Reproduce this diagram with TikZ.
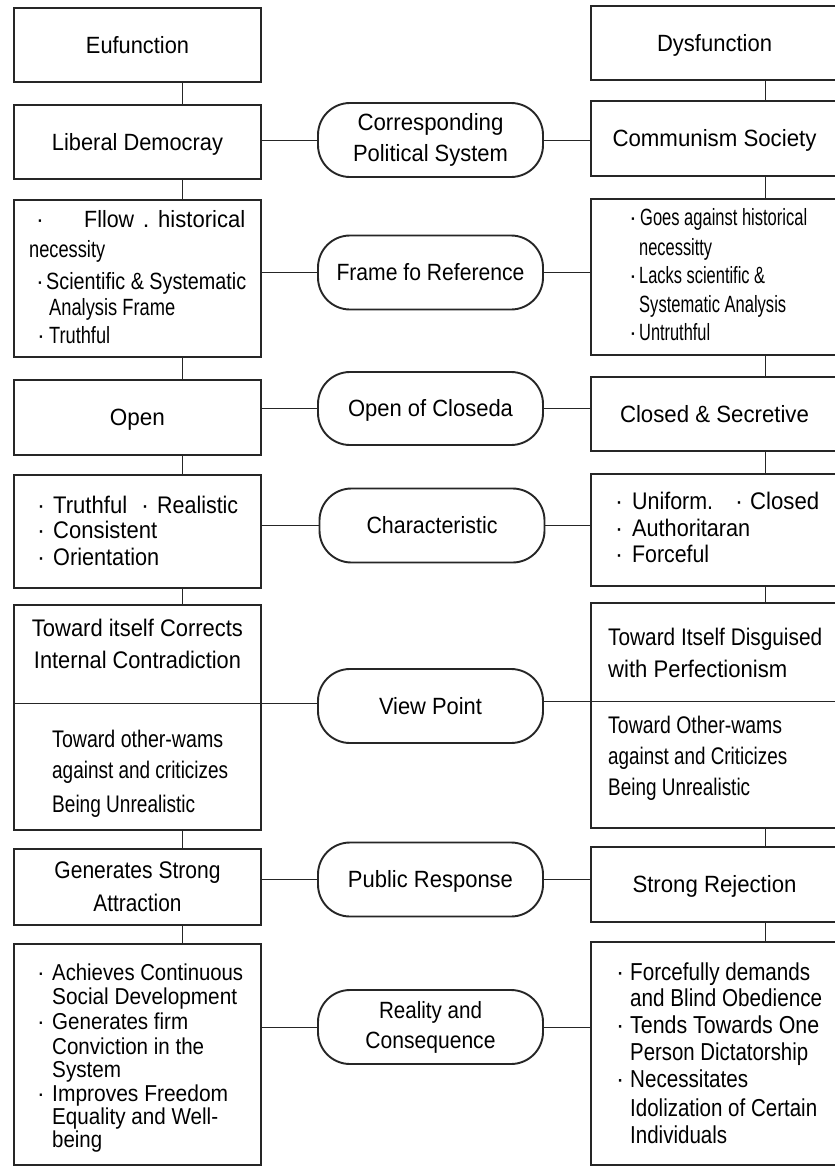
\documentclass[tikz,border=0pt]{standalone}
\usepackage{fontspec}
\setmainfont{Liberation Sans}
\usepackage{graphicx}
\newcommand\fitw[2]{\resizebox{#1pt}{\height}{#2}}
\newcommand\mybul[1]{\makebox[#1pt][l]{·}}
\newcommand\fsz[1]{\fontsize{#1}{#1}\selectfont}
\begin{document}
\begin{tikzpicture}[x=1pt,y=-1pt,
  line/.style={draw=black!85,line width=1pt},
  box/.style={draw=black!85,line width=1.3pt,minimum width=247pt,inner sep=0pt,font=\fsz{23.5},text=black},
  tbox/.style={box,line width=2.4pt},
  one/.style={text height=16.8pt,text depth=0pt},
  pill/.style={draw=black!85,line width=1.9pt,rounded corners=32pt,minimum width=225pt,minimum height=74pt,inner sep=0pt,font=\fsz{23.5},text=black},
  tl/.style={inner sep=0pt,anchor=base west,text=black},
  tfr/.style={tl,font=\fsz{23.5}},
  tmid/.style={tl,font=\fsz{24}},
  tlow/.style={tl,font=\fsz{23}},
  tlowr/.style={tl,font=\fsz{24.5}}]
\path[fill=white,use as bounding box] (0,0) rectangle (835,1167);

% left column boxes
\node[tbox,one,minimum height=74pt] (eu) at (137.5,45) {\fitw{103}{Eufunction}};
\node[box,one,minimum height=74pt] (ld) at (137.5,142) {\fitw{171}{Liberal Democray}};
\node[box,minimum height=157pt] (lf) at (137.5,278.5) {};
\node[box,one,minimum height=75pt] (lo) at (137.5,417.5) {\fitw{55}{Open}};
\node[box,minimum height=113pt] (lc) at (137.5,531.5) {};
\node[box,minimum height=225pt] (lv) at (137.5,717.5) {};
\node[box,minimum height=76pt,align=center,font=\fontsize{24}{33}\selectfont] (lg) at (137.5,887) {\fitw{166}{Generates Strong}\\\fitw{88}{Attraction}};
\node[box,minimum height=221pt] (la) at (137.5,1054.5) {};

% right column boxes
\node[tbox,one,minimum height=74pt] (dy) at (714.5,43) {\fitw{115}{Dysfunction}};
\node[box,one,minimum height=75pt] (cs) at (714.5,138.5) {\fitw{204}{Communism Society}};
\node[box,minimum height=156pt] (rf) at (714.5,277) {};
\node[box,one,minimum height=74pt] (rcl) at (714.5,414) {\fitw{189}{Closed \& Secretive}};
\node[box,minimum height=112pt] (ru) at (714.5,530) {};
\node[box,minimum height=225pt] (rv) at (714.5,715.5) {};
\node[box,one,minimum height=75pt] (rs) at (714.5,884.5) {\fitw{164}{Strong Rejection}};
\node[box,minimum height=223pt] (rr) at (714.5,1053.5) {};

% middle pills
\node[pill,align=center,font=\fontsize{23.5}{31}\selectfont] (p1) at (430.5,140) {\fitw{146}{Corresponding}\\\fitw{155}{Political System}};
\node[pill,one] (p2) at (430.5,272.5) {\fitw{188}{Frame fo Reference}};
\node[pill,one,minimum height=73pt] (p3) at (430.5,408.5) {\fitw{165}{Open of Closeda}};
\node[pill,one] (p4) at (432,525.5) {\fitw{131}{Characteristic}};
\node[pill,one] (p5) at (430.5,706) {\fitw{103}{View Point}};
\node[pill,one] (p6) at (430.5,879.5) {\fitw{165}{Public Response}};
\node[pill,align=center,font=\fontsize{23.5}{30}\selectfont] (p7) at (430.5,1027) {\fitw{103}{Reality and}\\\fitw{130}{Consequence}};

% texts of the left boxes
\node[tfr] (lf1) at (36,227) {\mybul{48}\fitw{50}{Fllow}\makebox[24pt]{.}\fitw{87}{historical}};
\node[tfr] (lf2) at (29,257.5) {\fitw{76}{necessity}};
\node[tfr] (lf3) at (36,289) {\mybul{10}\fitw{200}{Scientific \& Systematic}};
\node[tfr] (lf4) at (49,315.5) {\fitw{126}{Analysis Frame}};
\node[tfr] (lf5) at (37,343) {\mybul{12}\fitw{61}{Truthful}};

\node[tmid] (lc1) at (37,513) {\mybul{16}\fitw{74}{Truthful}\hspace*{14pt}\mybul{16}\fitw{81}{Realistic}};
\node[tmid] (lc2) at (37,538) {\mybul{16}\fitw{104}{Consistent}};
\node[tmid] (lc3) at (37,565) {\mybul{16}\fitw{106}{Orientation}};

\node[tmid,anchor=base] (lv1) at (137.5,636) {\fitw{211}{Toward itself Corrects}};
\node[tmid,anchor=base] (lv2) at (137.5,668) {\fitw{207}{Internal Contradiction}};
\node[tmid] (lv3) at (52,747) {\fitw{171}{Toward other-wams}};
\node[tmid] (lv4) at (52,778) {\fitw{176}{against and criticizes}};
\node[tmid] (lv5) at (52,812) {\fitw{143}{Being Unrealistic}};

\node[tlow] (la1) at (37,980) {\mybul{15}\fitw{191}{Achieves Continuous}};
\node[tlow] (la2) at (52,1004) {\fitw{185}{Social Development}};
\node[tlow] (la3) at (37,1029) {\mybul{15}\fitw{136}{Generates firm}};
\node[tlow] (la4) at (52,1054) {\fitw{152}{Conviction in the}};
\node[tlow] (la5) at (52,1077) {\fitw{69}{System}};
\node[tlow] (la6) at (37,1101) {\mybul{15}\fitw{176}{Improves Freedom}};
\node[tlow] (la7) at (52,1124) {\fitw{166}{Equality and Well-}};
\node[tlow] (la8) at (52,1147) {\fitw{50}{being}};

% texts of the right boxes
\node[tfr] (rf1) at (629,225) {\mybul{11}\fitw{167}{Goes against historical}};
\node[tfr] (rf2) at (639,255) {\fitw{73}{necessitty}};
\node[tfr] (rf3) at (629,283) {\mybul{10}\fitw{126}{Lacks scientific \&}};
\node[tfr] (rf4) at (639,312) {\fitw{147}{Systematic Analysis}};
\node[tfr] (rf5) at (629,340) {\mybul{10}\fitw{71}{Untruthful}};

\node[tmid] (ru1) at (615,509) {\mybul{17}\fitw{81}{Uniform.}\hspace*{22pt}\mybul{15}\fitw{69}{Closed}};
\node[tmid] (ru2) at (615,536) {\mybul{17}\fitw{118}{Authoritaran}};
\node[tmid] (ru3) at (615,562) {\mybul{17}\fitw{77}{Forceful}};

\node[tmid] (rv1) at (608,645) {\fitw{214}{Toward Itself Disguised}};
\node[tmid] (rv2) at (608,677) {\fitw{179}{with Perfectionism}};
\node[tmid] (rv3) at (608,733) {\fitw{174}{Toward Other-wams}};
\node[tmid] (rv4) at (608,764) {\fitw{179}{against and Criticizes}};
\node[tmid] (rv5) at (608,795) {\fitw{142}{Being Unrealistic}};

\node[tlowr] (rr1) at (616,980) {\mybul{14}\fitw{180}{Forcefully demands}};
\node[tlowr] (rr2) at (630,1006) {\fitw{192}{and Blind Obedience}};
\node[tlowr] (rr3) at (616,1033) {\mybul{14}\fitw{189}{Tends Towards One}};
\node[tlowr] (rr4) at (630,1060) {\fitw{178}{Person Dictatorship}};
\node[tlowr] (rr5) at (616,1087) {\mybul{14}\fitw{118}{Necessitates}};
\node[tlowr] (rr6) at (630,1116) {\fitw{187}{Idolization of Certain}};
\node[tlowr] (rr7) at (630,1143) {\fitw{97}{Individuals}};

% connectors
\coordinate (lx) at (182,0);
\coordinate (rx) at (765,0);
\foreach \a/\b in {eu/ld,ld/lf,lf/lo,lo/lc,lc/lv,lv/lg,lg/la}
  \draw[line] (\a.south -| lx) -- (\b.north -| lx);
\foreach \a/\b in {dy/cs,cs/rf,rf/rcl,rcl/ru,ru/rv,rv/rs,rs/rr}
  \draw[line] (\a.south -| rx) -- (\b.north -| rx);
\foreach \a/\p/\b in {ld/p1/cs,lf/p2/rf,lo/p3/rcl,lc/p4/ru,lg/p6/rs,la/p7/rr}{
  \draw[line] (\a.east |- \p.west) -- (\p.west);
  \draw[line] (\p.east) -- (\b.west |- \p.east);}
\coordinate (ldv) at (0,703);
\coordinate (rdv) at (0,701);
\draw[line] (lv.west |- ldv) -- (p5.west |- ldv);
\draw[line] (p5.east |- rdv) -- (rv.east |- rdv);
\end{tikzpicture}
\end{document}
